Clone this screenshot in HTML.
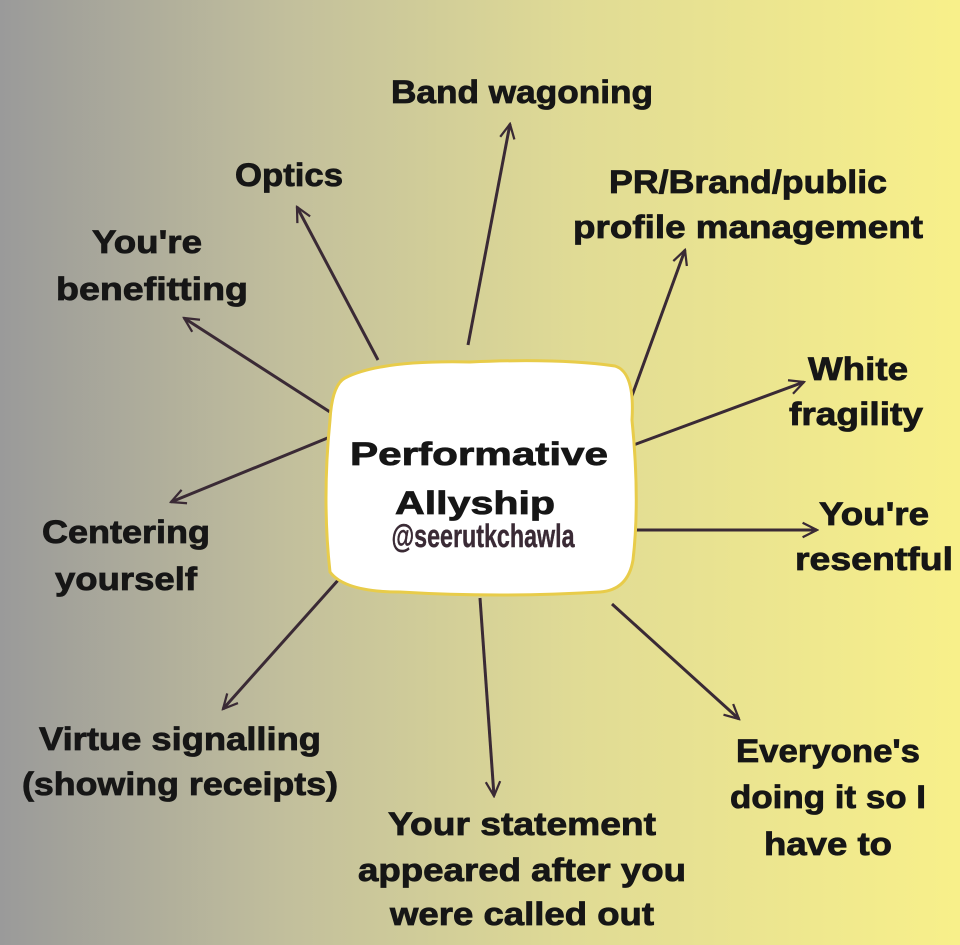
<!DOCTYPE html>
<html><head><style>
html,body{margin:0;padding:0}
body{width:960px;height:945px;background:linear-gradient(to right,#9a9a9a 0%,#c2bf9c 30%,#e0db95 60%,#f8f08a 100%);}
svg{display:block}
text{font-family:"Liberation Sans",sans-serif;font-weight:bold;fill:#161616;stroke:#161616;stroke-width:0.8;font-size:32px;text-anchor:middle}
</style></head><body>
<svg width="960" height="945" viewBox="0 0 960 945">
<defs><marker id="a" viewBox="0 0 20 20" refX="18" refY="10" markerWidth="18" markerHeight="18" markerUnits="userSpaceOnUse" orient="auto"><path d="M2 2 L18 10 L2 18" fill="none" stroke="#3a2a35" stroke-width="2.5"/></marker></defs>
<g stroke="#3a2a35" stroke-width="3" marker-end="url(#a)">
<line x1="468" y1="345" x2="510" y2="124"/>
<line x1="378" y1="360" x2="297" y2="207"/>
<line x1="330" y1="412" x2="184" y2="318"/>
<line x1="330" y1="437" x2="171" y2="502"/>
<line x1="340" y1="578" x2="223" y2="709"/>
<line x1="480" y1="598" x2="494" y2="796"/>
<line x1="612" y1="604" x2="739" y2="719"/>
<line x1="635" y1="530" x2="817" y2="530"/>
<line x1="628" y1="447" x2="804" y2="382"/>
<line x1="625" y1="415" x2="685" y2="250"/>
</g>
<path d="M345 378 Q380 360 470 362 Q560 358 615 366 Q635 372 632 420 Q640 500 633 560 Q628 590 600 592 Q500 598 400 592 Q345 592 330 572 Q322 500 330 420 Q332 385 345 378 Z" fill="#fff" stroke="#e8cc4a" stroke-width="3"/>
<text x="479" y="465" textLength="258" lengthAdjust="spacingAndGlyphs" font-size="35">Performative</text>
<text x="475" y="514" textLength="160" lengthAdjust="spacingAndGlyphs" font-size="35">Allyship</text>
<text x="483" y="547" textLength="183" lengthAdjust="spacingAndGlyphs" font-size="18" style="fill:#3a2a35;stroke:#3a2a35;stroke-width:0.4">@seerutkchawla</text>
<text x="522" y="103" textLength="262" lengthAdjust="spacingAndGlyphs">Band wagoning</text>
<text x="289" y="186" textLength="108" lengthAdjust="spacingAndGlyphs">Optics</text>
<text x="748" y="193" textLength="278" lengthAdjust="spacingAndGlyphs">PR/Brand/public</text>
<text x="748" y="238" textLength="350" lengthAdjust="spacingAndGlyphs">profile management</text>
<text x="147" y="253" textLength="110" lengthAdjust="spacingAndGlyphs">You're</text>
<text x="152" y="300" textLength="192" lengthAdjust="spacingAndGlyphs">benefitting</text>
<text x="858" y="380" textLength="100" lengthAdjust="spacingAndGlyphs">White</text>
<text x="856" y="425" textLength="134" lengthAdjust="spacingAndGlyphs">fragility</text>
<text x="874" y="525" textLength="110" lengthAdjust="spacingAndGlyphs">You're</text>
<text x="874" y="570" textLength="158" lengthAdjust="spacingAndGlyphs">resentful</text>
<text x="126" y="543" textLength="168" lengthAdjust="spacingAndGlyphs">Centering</text>
<text x="126" y="590" textLength="142" lengthAdjust="spacingAndGlyphs">yourself</text>
<text x="180" y="750" textLength="282" lengthAdjust="spacingAndGlyphs">Virtue signalling</text>
<text x="180" y="795" textLength="316" lengthAdjust="spacingAndGlyphs">(showing receipts)</text>
<text x="828" y="762" textLength="184" lengthAdjust="spacingAndGlyphs">Everyone's</text>
<text x="828" y="808" textLength="196" lengthAdjust="spacingAndGlyphs">doing it so I</text>
<text x="828" y="855" textLength="128" lengthAdjust="spacingAndGlyphs">have to</text>
<text x="522" y="835" textLength="268" lengthAdjust="spacingAndGlyphs">Your statement</text>
<text x="522" y="881" textLength="328" lengthAdjust="spacingAndGlyphs">appeared after you</text>
<text x="522" y="925" textLength="264" lengthAdjust="spacingAndGlyphs">were called out</text>
</svg>
</body></html>
